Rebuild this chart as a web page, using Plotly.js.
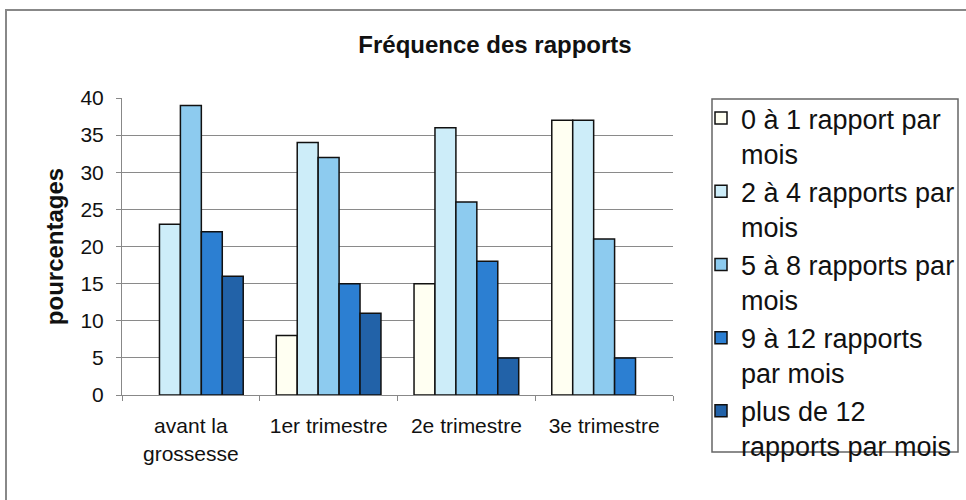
<!DOCTYPE html>
<html>
<head>
<meta charset="utf-8">
<script src="https://cdn.plot.ly/plotly-3.0.1.min.js"></script>
<style>html,body{margin:0;padding:0;background:#fff;}#chart{width:966px;height:500px;}</style>
</head>
<body>
<div id="chart"></div>
<script>
var categories = ["avant la<br>grossesse", "1er trimestre", "2e trimestre", "3e trimestre"];
var seriesNames = [
  "0 à 1 rapport par<br>mois",
  "2 à 4 rapports par<br>mois",
  "5 à 8 rapports par<br>mois",
  "9 à 12 rapports<br>par mois",
  "plus de 12<br>rapports par mois"
];
var s1 = [null, 8, 15, 37];
var s2 = [23, 34, 36, 37];
var s3 = [39, 32, 26, 21];
var s4 = [22, 15, 18, 5];
var s5 = [16, 11, 5, null];
var yTicks = [0, 5, 10, 15, 20, 25, 30, 35, 40];

var colors = ["#FFFFF2", "#CDEDF9", "#8DCBEF", "#2C7FD2", "#2262A8"];
var values = [s1, s2, s3, s4, s5];

var traces = values.map(function (v, i) {
  return {
    type: "bar",
    x: categories,
    y: v,
    name: seriesNames[i],
    marker: {color: colors[i], line: {color: "#111", width: 1.5}},
    hoverinfo: "y"
  };
});

var L = 122, R = 673, T = 98, B = 395;
var pw = R - L, ph = B - T;
function px2x(p) { return (p - L) / pw; }
function px2y(p) { return (B - p) / ph; }

var layout = {
  width: 966, height: 500,
  margin: {l: L, r: 966 - R, t: T, b: 500 - B, pad: 0, autoexpand: false},
  paper_bgcolor: "#fff", plot_bgcolor: "#fff",
  font: {family: "Liberation Sans, Arial, sans-serif", color: "#111"},
  barmode: "group", bargap: 0.24, bargroupgap: 0,
  showlegend: true,
  title: {
    text: "<b>Fréquence des rapports</b>",
    font: {size: 24, color: "#111"},
    xref: "paper", x: px2x(495), xanchor: "center",
    yref: "container", y: 1 - 45 / 500, yanchor: "middle"
  },
  xaxis: {
    type: "category",
    showline: true, linecolor: "#888", linewidth: 1,
    ticks: "outside", tickson: "boundaries", ticklen: 5, tickcolor: "#888",
    tickfont: {size: 21, color: "#111"},
    ticklabelstandoff: 12,
    showgrid: false, zeroline: false
  },
  yaxis: {
    range: [0, 40], tickvals: yTicks, ticktext: yTicks.map(String),
    showline: true, linecolor: "#888", linewidth: 1,
    ticks: "outside", ticklen: 5, tickcolor: "#888",
    tickfont: {size: 21, color: "#111"},
    ticklabelstandoff: 8,
    showgrid: true, gridcolor: "#8a8a8a", gridwidth: 1,
    zeroline: false,
    title: {text: "<b>pourcentages</b>", font: {size: 24, color: "#111"}, standoff: 10}
  },
  legend: {
    x: px2x(701), xanchor: "left",
    y: px2y(94), yanchor: "top",
    maxheight: 480,
    font: {size: 27, color: "#111"},
    bgcolor: "rgba(0,0,0,0)", borderwidth: 0,
    valign: "top", tracegroupgap: 0
  },
  shapes: [
    {type: "rect", xref: "paper", yref: "paper",
     x0: px2x(712), x1: px2x(958), y0: px2y(452), y1: px2y(99),
     line: {color: "#666", width: 1.5}, fillcolor: "rgba(0,0,0,0)", layer: "below"},
    {type: "rect", xref: "paper", yref: "paper",
     x0: px2x(6), x1: px2x(1000), y0: px2y(540), y1: px2y(10),
     line: {color: "#888", width: 2}, fillcolor: "rgba(0,0,0,0)", layer: "below"}
  ]
};

Plotly.newPlot("chart", traces, layout, {displayModeBar: false, staticPlot: true});
</script>
</body>
</html>
